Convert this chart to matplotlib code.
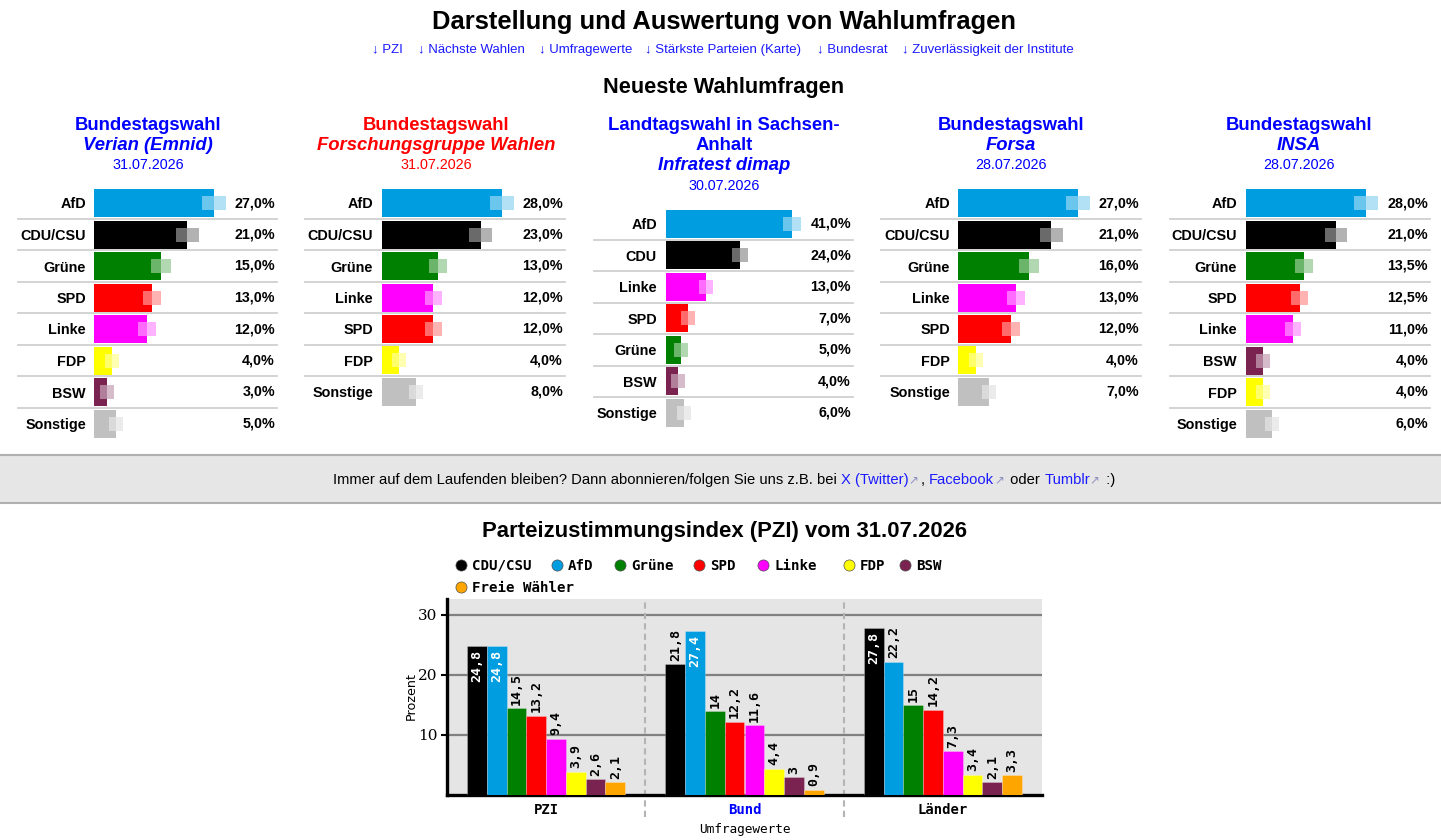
import matplotlib
matplotlib.use('Agg')
import matplotlib.pyplot as plt
from matplotlib.patches import Rectangle
from matplotlib.transforms import blended_transform_factory as btf
import numpy as np

W, H = 1441, 840
SANS = ['Liberation Sans', 'DejaVu Sans']
MONO = ['DejaVu Sans Mono', 'DejaVu Sans']
SERIF = ['DejaVu Serif']
BLUE = '#0000ff'
RED = '#ff0000'

party_colors = {
    'AfD': '#009ee0', 'CDU/CSU': '#000000', 'CDU': '#000000', 'Grüne': '#008000',
    'SPD': '#ff0000', 'Linke': '#ff00ff', 'FDP': '#ffff00', 'BSW': '#7a2350',
    'Sonstige': '#c0c0c0', 'Freie Wähler': '#ffa500',
}

# ---------------- data: latest polls ----------------
p1_parties = ['AfD', 'CDU/CSU', 'Grüne', 'SPD', 'Linke', 'FDP', 'BSW', 'Sonstige']
p1_values = [27.0, 21.0, 15.0, 13.0, 12.0, 4.0, 3.0, 5.0]
p1_title = ['Bundestagswahl', 'Verian (Emnid)', '31.07.2026']

p2_parties = ['AfD', 'CDU/CSU', 'Grüne', 'Linke', 'SPD', 'FDP', 'Sonstige']
p2_values = [28.0, 23.0, 13.0, 12.0, 12.0, 4.0, 8.0]
p2_title = ['Bundestagswahl', 'Forschungsgruppe Wahlen', '31.07.2026']

p3_parties = ['AfD', 'CDU', 'Linke', 'SPD', 'Grüne', 'BSW', 'Sonstige']
p3_values = [41.0, 24.0, 13.0, 7.0, 5.0, 4.0, 6.0]
p3_title = ['Landtagswahl in Sachsen-', 'Anhalt', 'Infratest dimap', '30.07.2026']

p4_parties = ['AfD', 'CDU/CSU', 'Grüne', 'Linke', 'SPD', 'FDP', 'Sonstige']
p4_values = [27.0, 21.0, 16.0, 13.0, 12.0, 4.0, 7.0]
p4_title = ['Bundestagswahl', 'Forsa', '28.07.2026']

p5_parties = ['AfD', 'CDU/CSU', 'Grüne', 'SPD', 'Linke', 'BSW', 'FDP', 'Sonstige']
p5_values = [28.0, 21.0, 13.5, 12.5, 11.0, 4.0, 4.0, 6.0]
p5_title = ['Bundestagswahl', 'INSA', '28.07.2026']

SAMPLE_N = 1000  # assumed poll size for the uncertainty marker

# ---------------- data: PZI ----------------
pzi_groups = ['PZI', 'Bund', 'Länder']
pzi_parties = ['CDU/CSU', 'AfD', 'Grüne', 'SPD', 'Linke', 'FDP', 'BSW', 'Freie Wähler']
pzi_gesamt = [24.8, 24.8, 14.5, 13.2, 9.4, 3.9, 2.6, 2.1]
pzi_bund = [21.8, 27.4, 14.0, 12.2, 11.6, 4.4, 3.0, 0.9]
pzi_laender = [27.8, 22.2, 15.0, 14.2, 7.3, 3.4, 2.1, 3.3]

# ---------------- figure ----------------
fig = plt.figure(figsize=(W / 100, H / 100), dpi=100)
bg = fig.add_axes([0, 0, 1, 1])
bg.set_xlim(0, W)
bg.set_ylim(H, 0)
bg.axis('off')


def px_axes(x0, y0, w, h):
    return fig.add_axes([x0 / W, 1 - (y0 + h) / H, w / W, h / H])


# header
bg.text(724, 22, 'Darstellung und Auswertung von Wahlumfragen', ha='center', va='center',
        fontsize=18.4, fontweight='bold', family=SANS)
links = ['↓ PZI', '↓ Nächste Wahlen', '↓ Umfragewerte', '↓ Stärkste Parteien (Karte)',
         '↓ Bundesrat', '↓ Zuverlässigkeit der Institute']
link_x = [372, 418, 539, 645, 817, 902]
for s, x in zip(links, link_x):
    bg.text(x, 49.5, s, ha='left', va='center', fontsize=9.5, color='#1a1aff', family=SANS)
bg.text(724, 88, 'Neueste Wahlumfragen', ha='center', va='center', fontsize=15.7,
        fontweight='bold', family=SANS)

# ---------------- poll panels ----------------
panels = [
    dict(parties=p1_parties, values=p1_values, title=p1_title, color=BLUE, cx=148,
         bar_x0=94, lab_r=86, val_r=275, sep=(18, 277), row0=203, lmax=120),
    dict(parties=p2_parties, values=p2_values, title=p2_title, color=RED, cx=436,
         bar_x0=382, lab_r=373, val_r=563, sep=(305, 565), row0=203, lmax=120),
    dict(parties=p3_parties, values=p3_values, title=p3_title, color=BLUE, cx=724,
         bar_x0=666, lab_r=657, val_r=851, sep=(594, 853), row0=224, lmax=126),
    dict(parties=p4_parties, values=p4_values, title=p4_title, color=BLUE, cx=1011,
         bar_x0=958, lab_r=950, val_r=1139, sep=(881, 1141), row0=203, lmax=120),
    dict(parties=p5_parties, values=p5_values, title=p5_title, color=BLUE, cx=1299,
         bar_x0=1246, lab_r=1237, val_r=1428, sep=(1170, 1430), row0=203, lmax=120),
]
PITCH = 31.5

for p in panels:
    t = p['title']
    if len(t) == 3:
        ys = [125, 146, 165]
        styles = ['bold', 'bolditalic', 'date']
    else:
        ys = [125, 145, 166, 186]
        styles = ['bold', 'bold', 'bolditalic', 'date']
    for s, y, st in zip(t, ys, styles):
        if st == 'bold':
            bg.text(p['cx'], y, s, ha='center', va='center', fontsize=13.3, fontweight='bold',
                    color=p['color'], family=SANS)
        elif st == 'bolditalic':
            bg.text(p['cx'], y, s, ha='center', va='center', fontsize=13.3, fontweight='bold',
                    fontstyle='italic', color=p['color'], family=SANS)
        else:
            bg.text(p['cx'], y, s, ha='center', va='center', fontsize=10.4,
                    color=p['color'], family=SANS)

    parties, values = p['parties'], p['values']
    n = len(parties)
    wpx = p['val_r'] - p['bar_x0']
    vmax = max(values)
    scale = p['lmax'] / vmax  # px per %
    ax = px_axes(p['bar_x0'], p['row0'] - PITCH / 2, wpx, n * PITCH)
    ax.set_xlim(0, wpx / scale)
    ax.set_ylim(n - 0.5, -0.5)
    ypos = np.arange(n)
    cols = [party_colors[q] for q in parties]
    ax.barh(ypos, values, height=28 / PITCH, color=cols, zorder=2)
    # uncertainty marker
    for i, v in enumerate(values):
        pr = v / 100
        m = max(1.96 * np.sqrt(pr * (1 - pr) / SAMPLE_N) * 100, 7 / scale)
        ax.barh(i, m, left=v - m, height=14 / PITCH, color='white', alpha=0.42, zorder=3)
        ax.barh(i, m, left=v, height=14 / PITCH, color=cols[i], alpha=0.3, zorder=3)
        ax.text(1.0, i, f'{v:.1f}'.replace('.', ',') + '%', transform=btf(ax.transAxes, ax.transData),
                ha='right', va='center', fontsize=10.3, fontweight='bold', family=SANS)
    for i in range(n - 1):
        ax.axhline(i + 0.5, xmin=(p['sep'][0] - p['bar_x0']) / wpx,
                   xmax=(p['sep'][1] - p['bar_x0']) / wpx, color='#d0d0d0', lw=1.3,
                   clip_on=False, zorder=1)
    ax.set_yticks(ypos)
    ax.set_yticklabels(parties, fontsize=10.4, fontweight='bold', family=SANS)
    ax.tick_params(axis='y', length=0, pad=(p['bar_x0'] - p['lab_r']) * 0.72)
    ax.set_xticks([])
    for sp in ax.spines.values():
        sp.set_visible(False)
    ax.patch.set_alpha(0)

# ---------------- info band ----------------
bg.add_patch(Rectangle((0, 455), W, 48, facecolor='#e6e6e6', edgecolor='none'))
bg.plot([0, W], [455, 455], color='#b0b0b0', lw=1.5)
bg.plot([0, W], [503, 503], color='#b0b0b0', lw=1.5)

segments = [
    ('Immer auf dem Laufenden bleiben? Dann abonnieren/folgen Sie uns z.B. bei ', 'black'),
    ('X (Twitter)', '#1a1aff'), ('↗', '#9090c0'), (', ', 'black'), ('Facebook', '#1a1aff'),
    ('↗', '#9090c0'), (' oder ', 'black'), ('Tumblr', '#1a1aff'), ('↗', '#9090c0'),
    (' :)', 'black'),
]
renderer = fig.canvas.get_renderer()
BAND_FS = 10.6


def text_width(s):
    tt = bg.text(0, 0, s + '|', fontsize=BAND_FS, family=SANS)
    w1 = tt.get_window_extent(renderer).width
    tt.remove()
    tt = bg.text(0, 0, '|', fontsize=BAND_FS, family=SANS)
    w2 = tt.get_window_extent(renderer).width
    tt.remove()
    return w1 - w2


full = ''.join(s for s, _ in segments)
total = text_width(full)
x_start = 724 - total / 2
prefix = ''
for s, c in segments:
    x = x_start + (text_width(prefix) if prefix else 0)
    if s == '↗':
        bg.text(x, 480, s, ha='left', va='center', fontsize=BAND_FS * 0.8, color=c, family=SANS)
    else:
        bg.text(x, 480, s, ha='left', va='center', fontsize=BAND_FS, color=c, family=SANS)
    prefix += s

# ---------------- PZI chart ----------------
bg.text(724, 531, 'Parteizustimmungsindex (PZI) vom 31.07.2026', ha='center', va='center',
        fontsize=15.9, fontweight='bold', family=SANS)

leg_pos = [(461, 565), (557, 565), (620, 565), (699, 565), (763, 565), (849, 565), (905, 565),
           (461, 587)]
for party, (lx, ly) in zip(pzi_parties, leg_pos):
    bg.plot([lx], [ly], 'o', ms=8, color=party_colors[party], mec='#505050', mew=0.5)
    bg.text(lx + 11, ly + 0.5, party, ha='left', va='center', fontsize=10.2,
            fontweight='bold', family=MONO)

ax = px_axes(447, 795 - 196, 595, 196)
ax.set_facecolor('#e5e5e5')
ax.set_xlim(-0.5, 2.5)
ax.set_ylim(0, 196 / 6)
data = np.array([pzi_gesamt, pzi_bund, pzi_laender])
xg = np.arange(len(pzi_groups))
bw = 0.0997
for j, party in enumerate(pzi_parties):
    xs = xg + (j - 3.5) * bw
    vals = data[:, j]
    c = party_colors[party]
    ax.bar(xs, vals, width=bw, color=c, edgecolor=(1, 1, 1, 0.25), lw=0.7, zorder=3)
    for x, v in zip(xs, vals):
        lab = f'{v:g}'.replace('.', ',')
        if v > 23.5:
            ax.annotate(lab, xy=(x, v), xytext=(0, -3), textcoords='offset points', rotation=90,
                        ha='center', va='top', color='white', fontsize=9.5, fontweight='bold',
                        family=MONO, zorder=4)
        else:
            ax.annotate(lab, xy=(x, v), xytext=(0, 2.5), textcoords='offset points', rotation=90,
                        ha='center', va='bottom', color='black', fontsize=9.5, fontweight='bold',
                        family=MONO, zorder=4)

for xs in [0.5, 1.5]:
    ax.axvline(xs, ymin=-0.11, ymax=1, color='#b4b4b4', lw=1.5, ls=(0, (3, 2)), zorder=1,
               clip_on=False)

ax.set_yticks([10, 20, 30])
ax.yaxis.grid(True, color='#808080', lw=1.6, zorder=0)
ax.set_axisbelow(True)
ax.tick_params(axis='y', length=4, width=1.5, labelsize=11, pad=3)
for lbl in ax.get_yticklabels():
    lbl.set_family(SERIF)
ax.set_xticks(xg)
ax.set_xticklabels(pzi_groups, fontsize=10, fontweight='bold', family=MONO)
ax.get_xticklabels()[1].set_color(BLUE)
ax.tick_params(axis='x', length=0, pad=6)
for sp in ['top', 'right']:
    ax.spines[sp].set_visible(False)
ax.spines['left'].set_linewidth(2.4)
ax.spines['bottom'].set_linewidth(2.4)

ax.set_xlabel('Umfragewerte', fontsize=9.2, family=MONO)
ax.xaxis.set_label_coords(0.5, -(829 - 795) / 196)
ax.xaxis.label.set_va('center')
ax.set_ylabel('Prozent', fontsize=9.2, family=['DejaVu Sans'])
ax.yaxis.set_label_coords((411 - 447) / 595, (795 - 696) / 196)
ax.yaxis.label.set_va('center')

fig.savefig('out.png', dpi=100)
